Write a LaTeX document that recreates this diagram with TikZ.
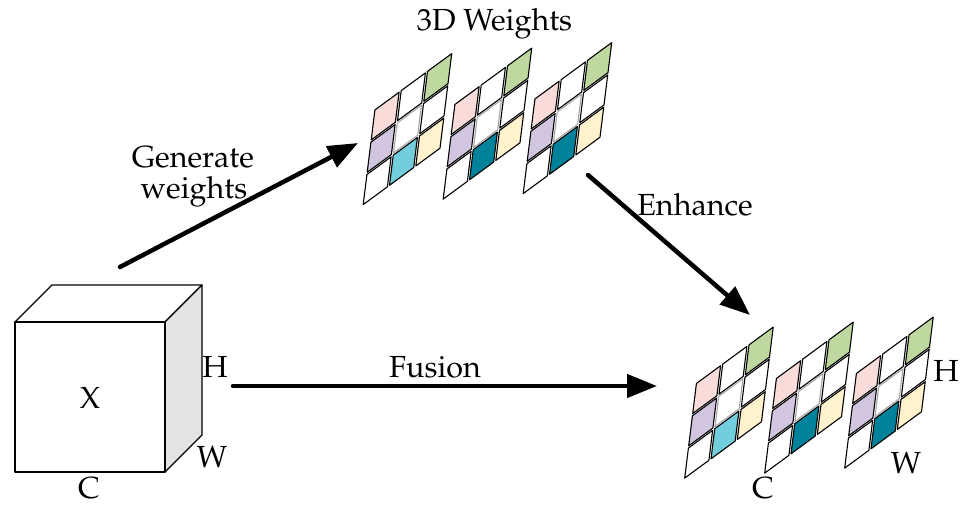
\documentclass[tikz,border=0pt]{standalone}
\usepackage[T1]{fontenc}
\usepackage{mathpazo}
\usetikzlibrary{arrows.meta,calc}
\definecolor{cpink}{HTML}{F9DBD9}
\definecolor{cpurple}{HTML}{D1C5DF}
\definecolor{cgreen}{HTML}{BFD8A0}
\definecolor{cyellow}{HTML}{FFF2CC}
\definecolor{ccyanl}{HTML}{72CEDD}
\definecolor{cteal}{HTML}{00839A}
\definecolor{cside}{HTML}{E4E4E4}
\newcommand{\wcell}[4]{\filldraw[fill=#3, draw=#4, line width=1.1pt, line join=round] (#1+0.04,#2+0.035) -- (#1+0.96,#2+0.035) -- (#1+0.96,#2+0.965) -- (#1+0.04,#2+0.965) -- cycle;}
\newcommand{\wgrid}[3]{%
\begin{scope}[shift={(#1,#2)}, x={(26.3pt,19.3pt)}, y={(4pt,32.3pt)}]
\wcell{0}{0}{white}{black}
\wcell{1}{0}{#3}{black}
\wcell{2}{0}{cyellow}{black}
\wcell{0}{1}{cpurple}{black}
\wcell{1}{1}{white}{gray!70}
\wcell{2}{1}{white}{black}
\wcell{0}{2}{cpink}{black}
\wcell{1}{2}{white}{black}
\wcell{2}{2}{cgreen}{black}
\end{scope}}
\begin{document}
\begin{tikzpicture}[x=1pt,y=-1pt,
  lbl/.style={inner sep=0pt, font=\fontsize{30.5}{36}\selectfont},
  bigarrow/.style={line width=4.5pt, line cap=round, -{Triangle[length=30pt,width=23pt]}},
  edge/.style={line width=1.3pt, line join=round}]
\useasboundingbox (0,0) rectangle (966,505);
% cube
\coordinate (f1) at (15,322);
\coordinate (f2) at (165,322);
\coordinate (f3) at (165,472);
\coordinate (f4) at (15,472);
\coordinate (b1) at (52,285);
\coordinate (b2) at (202,285);
\coordinate (b3) at (202,435);
\filldraw[edge, fill=white] (f1) -- (b1) -- (b2) -- (f2) -- cycle;
\filldraw[edge, fill=cside] (f2) -- (b2) -- (b3) -- (f3) -- cycle;
\filldraw[edge, fill=white] (f1) rectangle (f3);
\node[lbl] (x) at (90,398) {X};
\node[lbl] (h1) at (215,367) {H};
\node[lbl] (w1) at (212,457) {W};
\node[lbl] (c1) at (89,488) {C};
% top weights
\wgrid{362}{206.5}{ccyanl}
\wgrid{442}{201}{cteal}
\wgrid{522}{195.5}{cteal}
\node[lbl] (tw) at (494.5,24) {3D Weights};
% bottom weights
\wgrid{683.5}{480}{ccyanl}
\wgrid{763.5}{475}{cteal}
\wgrid{843.5}{470}{cteal}
\node[lbl] (h2) at (946,371) {H};
\node[lbl] (w2) at (906,463) {W};
\node[lbl] (c2) at (763,488) {C};
% arrows
\coordinate (gs) at (120,267);
\coordinate (ge) at (358,143);
\coordinate (es) at (588,175);
\coordinate (ee) at (750,315);
\coordinate (fs) at (233,386);
\coordinate (fe) at (657,386);
\draw[bigarrow] (gs) -- (ge);
\draw[bigarrow] (es) -- (ee);
\draw[bigarrow] (fs) -- (fe);
\node[lbl] (gen) at (193,157) {Generate};
\node[lbl] (wts) at (194,192) {weights};
\node[lbl] (enh) at (695,205) {Enhance};
\node[lbl] (fus) at (435,367) {Fusion};
\end{tikzpicture}
\end{document}
